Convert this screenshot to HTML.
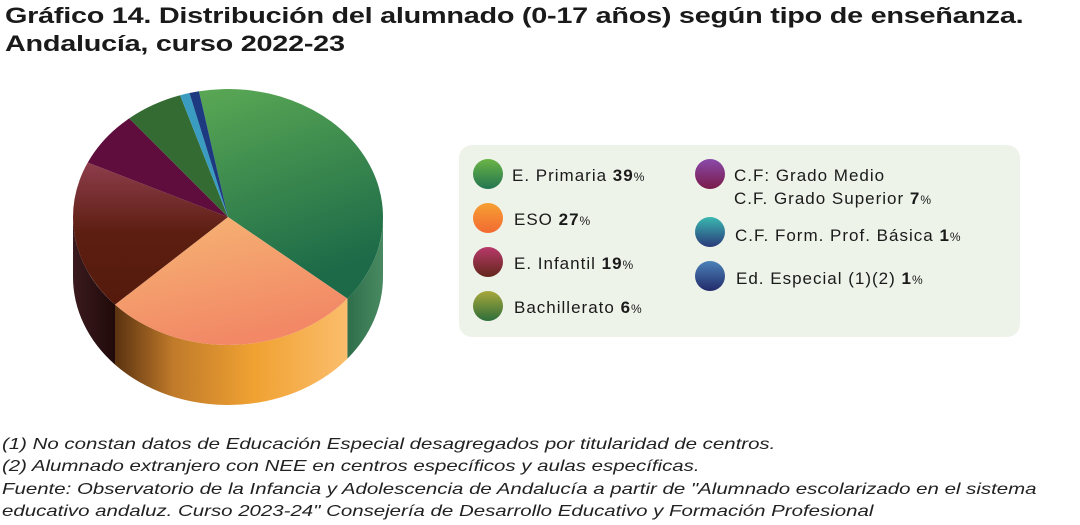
<!DOCTYPE html>
<html><head><meta charset="utf-8">
<style>
body{margin:0;width:1080px;height:525px;background:#fff;font-family:"Liberation Sans",sans-serif;overflow:hidden;position:relative;color:#1a1a1a}
.title{position:absolute;left:5px;top:2px;font-weight:bold;font-size:22px;line-height:28px;letter-spacing:-0.2px;transform:scaleX(1.31);transform-origin:0 0;white-space:nowrap}
.notes{position:absolute;left:2px;top:434px;font-style:italic;font-size:15.6px;line-height:22.3px;color:#222;transform:scaleX(1.31);transform-origin:0 0;white-space:nowrap}
</style></head><body>
<div class="title">Gráfico 14. Distribución del alumnado (0-17 años) según tipo de enseñanza.<br>Andalucía, curso 2022-23</div>
<svg id="chart" width="1080" height="525" style="position:absolute;left:0;top:0">
<defs>
<linearGradient id="gPrim" x1="0" y1="0" x2="0.3" y2="1"><stop offset="0" stop-color="#5aa854"/><stop offset="1" stop-color="#1c6a48"/></linearGradient>
<linearGradient id="gEso" x1="0" y1="0" x2="0.4" y2="1"><stop offset="0" stop-color="#f6b674"/><stop offset="1" stop-color="#f28866"/></linearGradient>
<linearGradient id="gInf" x1="0" y1="0" x2="0" y2="1"><stop offset="0" stop-color="#8e3d4c"/><stop offset="0.5" stop-color="#5c1e10"/><stop offset="1" stop-color="#551a0c"/></linearGradient>
<linearGradient id="sEso" x1="0" y1="0" x2="1" y2="0"><stop offset="0" stop-color="#5a3210"/><stop offset="0.25" stop-color="#c07a2a"/><stop offset="0.6" stop-color="#f0a232"/><stop offset="1" stop-color="#fbbd6c"/></linearGradient>
<linearGradient id="sPrim" x1="0" y1="0" x2="1" y2="0"><stop offset="0" stop-color="#2e6e4a"/><stop offset="1" stop-color="#4a8a62"/></linearGradient>
<linearGradient id="sInf" x1="0" y1="0" x2="1" y2="0"><stop offset="0" stop-color="#3a1a1e"/><stop offset="1" stop-color="#200a0a"/></linearGradient>
<linearGradient id="l0" x1="0" y1="0" x2="0" y2="1"><stop offset="0" stop-color="#6ab445"/><stop offset="1" stop-color="#237550"/></linearGradient>
<linearGradient id="l1" x1="0" y1="0" x2="0" y2="1"><stop offset="0" stop-color="#f5a032"/><stop offset="1" stop-color="#f26a32"/></linearGradient>
<linearGradient id="l2" x1="0" y1="0" x2="0" y2="1"><stop offset="0" stop-color="#b83a6a"/><stop offset="1" stop-color="#62261a"/></linearGradient>
<linearGradient id="l3" x1="0" y1="0" x2="0" y2="1"><stop offset="0" stop-color="#a8a83a"/><stop offset="1" stop-color="#2e6e3a"/></linearGradient>
<linearGradient id="l4" x1="0" y1="0" x2="0" y2="1"><stop offset="0" stop-color="#8a4aaa"/><stop offset="1" stop-color="#7a1a4a"/></linearGradient>
<linearGradient id="l5" x1="0" y1="0" x2="0" y2="1"><stop offset="0" stop-color="#3ab8b0"/><stop offset="1" stop-color="#2a3a7a"/></linearGradient>
<linearGradient id="l6" x1="0" y1="0" x2="0" y2="1"><stop offset="0" stop-color="#4a82b8"/><stop offset="1" stop-color="#232a6a"/></linearGradient>
</defs>
<rect x="459" y="145" width="561" height="192" rx="13" fill="#eef3ea"/>
<g id="pie"></g>
<g id="legend"></g>
</svg>
<div class="notes">(1) No constan datos de Educación Especial desagregados por titularidad de centros.<br>(2) Alumnado extranjero con NEE en centros específicos y aulas específicas.<br>Fuente: Observatorio de la Infancia y Adolescencia de Andalucía a partir de "Alumnado escolarizado en el sistema<br>educativo andaluz. Curso 2023-24" Consejería de Desarrollo Educativo y Formación Profesional</div>
<script>
const categories=["E. Primaria","ESO","E. Infantil","C.F: Grado Medio / Grado Superior","Bachillerato","C.F. Form. Prof. Básica","Ed. Especial (1)(2)"];
const values=[39,27,19,7,6,1,1];
const legendLabels=[["E. Primaria "],["ESO "],["E. Infantil "],["Bachillerato "],["C.F: Grado Medio","C.F. Grado Superior "],["C.F. Form. Prof. Básica "],["Ed. Especial (1)(2) "]];
const legendValues=["39","27","19","6","7","1","1"];

const NS="http://www.w3.org/2000/svg";
const cx=228,cy=217,rx=155,ry=128,depth=60,start=-100.8;
const topFill=["url(#gPrim)","url(#gEso)","url(#gInf)","#5e0d3c","#346b32","#3a9cc0","#1d3a80"];
const sideFill=["url(#sPrim)","url(#sEso)","url(#sInf)","#3a0826","#1e4420","#1e6080","#10204a"];
const slugs=["primaria","eso","infantil","cf-grado","bachillerato","fpb","especial"];
const pie=document.getElementById("pie");
function pt(a,dy){const r=a*Math.PI/180;return [cx+rx*Math.cos(r),cy+ry*Math.sin(r)+(dy||0)];}
const total=values.reduce((s,v)=>s+v,0);
let a=start;const spans=[];
values.forEach(v=>{const b=a+v/total*360;spans.push([a,b]);a=b;});
spans.forEach((s,i)=>{
  for(const off of [0,360,-360]){
    const a1=Math.max(s[0]+off,0),a2=Math.min(s[1]+off,180);
    if(a2<=a1)continue;
    const p1=pt(a1),p2=pt(a2),p3=pt(a2,depth),p4=pt(a1,depth);
    const d=`M${p1[0]},${p1[1]} A${rx},${ry} 0 0 1 ${p2[0]},${p2[1]} L${p3[0]},${p3[1]} A${rx},${ry} 0 0 0 ${p4[0]},${p4[1]} Z`;
    const p=document.createElementNS(NS,"path");
    p.setAttribute("d",d);p.setAttribute("fill",sideFill[i]);
    
    
    pie.appendChild(p);
  }
});
spans.forEach((s,i)=>{
  const p1=pt(s[0]),p2=pt(s[1]);const large=(s[1]-s[0])>180?1:0;
  const p=document.createElementNS(NS,"path");
  p.setAttribute("d",`M${cx},${cy} L${p1[0]},${p1[1]} A${rx},${ry} 0 ${large} 1 ${p2[0]},${p2[1]} Z`);
  p.setAttribute("fill",topFill[i]);
  
  
  pie.appendChild(p);
});
const lg=document.getElementById("legend");
const lpos=[[488,174],[488,218],[488,262],[488,306],[710,174],[710,232],[710,276]];
const tpos=[[512,181],[514,225],[514,269],[514,313],[734,181],[735,241],[736,284]];
legendLabels.forEach((lab,i)=>{
  const g=document.createElementNS(NS,"g");
  
  
  const c=document.createElementNS(NS,"circle");
  c.setAttribute("cx",lpos[i][0]);c.setAttribute("cy",lpos[i][1]);c.setAttribute("r",15);c.setAttribute("fill","url(#l"+i+")");
  g.appendChild(c);
  lab.forEach((line,j)=>{
    const t=document.createElementNS(NS,"text");
    t.setAttribute("x",tpos[i][0]);t.setAttribute("y",tpos[i][1]+(j*23));
    t.setAttribute("font-size","17");t.setAttribute("fill","#1a1a1a");t.setAttribute("letter-spacing","1");
    t.appendChild(document.createTextNode(line));
    if(j===lab.length-1){
      const b=document.createElementNS(NS,"tspan");b.setAttribute("font-weight","bold");b.textContent=legendValues[i];t.appendChild(b);
      const pc=document.createElementNS(NS,"tspan");pc.setAttribute("font-size","12");pc.setAttribute("letter-spacing","0");pc.textContent="%";t.appendChild(pc);
    }
    g.appendChild(t);
  });
  lg.appendChild(g);
});
</script>
</body></html>
